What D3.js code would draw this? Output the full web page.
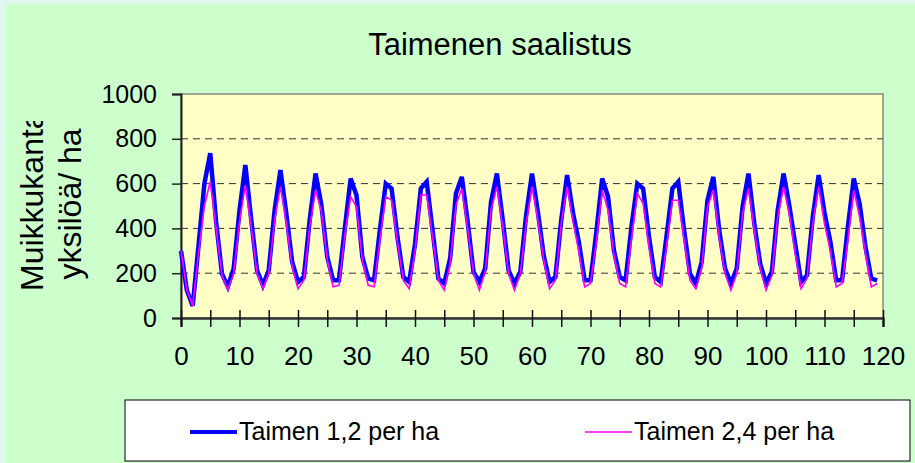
<!DOCTYPE html>
<html>
<head>
<meta charset="utf-8">
<script src="https://cdn.jsdelivr.net/npm/d3@7"></script>
<style>
  html, body { margin: 0; padding: 0; background: #e2f6f0; }
  svg { display: block; font-family: "Liberation Sans", Arial, sans-serif; }
</style>
</head>
<body>
<svg id="chart" width="915" height="463"></svg>
<script>
// Muikkukanta (yksilöä/ha), years 0..119
const series1 = [300, 124, 54, 325, 600, 736, 430, 198, 140, 220,
  480, 683, 440, 213, 146, 213, 481, 660, 466, 250,
  161, 183, 437, 645, 504, 273, 168, 168, 400, 623,
  548, 273, 176, 168, 393, 600, 578, 362, 183, 161,
  330, 578, 608, 392, 176, 154, 265, 556, 630, 429,
  206, 161, 221, 519, 645, 437, 213, 154, 206, 460,
  645, 474, 280, 161, 183, 437, 638, 470, 340, 168,
  168, 384, 623, 541, 302, 183, 168, 407, 600, 578,
  362, 183, 161, 366, 578, 608, 392, 198, 154, 250,
  526, 630, 392, 221, 154, 221, 496, 645, 422, 243,
  154, 206, 481, 645, 500, 329, 161, 191, 452, 638,
  470, 340, 168, 168, 407, 623, 511, 318, 176, 168];

const series2 = [300, 124, 54, 290, 500, 610, 400, 190, 125, 198,
  430, 593, 407, 198, 131, 198, 437, 586, 422, 228,
  131, 168, 407, 571, 474, 258, 139, 146, 370, 541,
  496, 258, 146, 139, 350, 541, 526, 340, 168, 131,
  300, 548, 550, 360, 168, 124, 240, 504, 578, 400,
  198, 124, 206, 481, 586, 407, 198, 124, 198, 420,
  586, 437, 260, 131, 168, 422, 586, 430, 300, 139,
  154, 340, 571, 481, 280, 154, 139, 350, 556, 511,
  320, 154, 139, 320, 526, 526, 350, 168, 131, 221,
  496, 571, 360, 198, 124, 198, 467, 578, 390, 221,
  124, 190, 452, 586, 460, 290, 131, 176, 422, 586,
  420, 300, 139, 154, 350, 571, 452, 290, 139, 154];

const seriesNames = ["Taimen 1,2 per ha", "Taimen 2,4 per ha"];
const seriesColors = ["#0000ff", "#ff00ff"];
const yTicks = [0, 200, 400, 600, 800, 1000];
const xTicks = [0, 5, 10, 15, 20, 25, 30, 35, 40, 45, 50, 55, 60, 65, 70, 75, 80, 85, 90, 95, 100, 105, 110, 115, 120];

const svg = d3.select("#chart");

// Background panel
svg.append("rect").attr("x", 6).attr("y", 4).attr("width", 909).attr("height", 459).attr("fill", "#ccffcc");

const plot = { left: 181, right: 883, top: 94, bottom: 318 };
const x = d3.scaleLinear().domain([0, 120]).range([plot.left, plot.right]);
const y = d3.scaleLinear().domain([0, 1000]).range([plot.bottom, plot.top]);

// Plot area
svg.append("rect")
  .attr("x", plot.left).attr("y", plot.top)
  .attr("width", plot.right - plot.left).attr("height", plot.bottom - plot.top)
  .attr("fill", "#ffffc6")
  .attr("stroke", "#888888").attr("stroke-width", 1.5);

// Gridlines
svg.append("g").selectAll("line")
  .data(yTicks.filter(d => d > 0 && d < 1000))
  .enter().append("line")
  .attr("x1", plot.left).attr("x2", plot.right)
  .attr("y1", d => y(d)).attr("y2", d => y(d))
  .attr("stroke", "#333").attr("stroke-width", 1)
  .attr("stroke-dasharray", "7,5");

// Y axis
const yAxis = svg.append("g")
  .attr("transform", `translate(${plot.left},0)`)
  .call(d3.axisLeft(y).tickValues(yTicks).tickSize(9).tickPadding(15).tickFormat(d3.format("d")));
yAxis.select(".domain").attr("stroke", "#222").attr("stroke-width", 2);
yAxis.selectAll(".tick line").attr("stroke", "#222").attr("stroke-width", 1.5);
yAxis.selectAll("text").attr("font-size", "25px").attr("fill", "#000").attr("font-family", "Liberation Sans, Arial");

// X axis
const xAxis = svg.append("g")
  .attr("transform", `translate(0,${plot.bottom})`)
  .call(d3.axisBottom(x).tickValues(xTicks).tickSize(9).tickPadding(20)
    .tickFormat(d => d % 10 === 0 ? d : ""));
xAxis.select(".domain").attr("stroke", "#333").attr("stroke-width", 2.5);
xAxis.selectAll(".tick line").attr("y1", -8).attr("stroke", "#111").attr("stroke-width", 1.5);
xAxis.selectAll("text").attr("font-size", "26px").attr("fill", "#000").attr("font-family", "Liberation Sans, Arial");

// Lines
const line = d3.line().x((d, i) => x(i)).y(d => y(d));
[series1, series2].forEach((s, k) => {
  svg.append("path")
    .datum(s)
    .attr("fill", "none")
    .attr("stroke", seriesColors[k])
    .attr("stroke-width", k === 0 ? 4.5 : 1.6)
    .attr("stroke-linejoin", "miter")
    .attr("d", line);
});

// Title
svg.append("text")
  .attr("x", 500).attr("y", 55)
  .attr("text-anchor", "middle")
  .attr("font-size", "31px")
  .text("Taimenen saalistus");

// Y axis title (first line clipped as in original)
svg.append("clipPath").attr("id", "ytclip")
  .append("rect").attr("x", 0).attr("y", 121).attr("width", 180).attr("height", 300);
svg.append("g")
  .attr("clip-path", "url(#ytclip)")
  .append("text")
  .attr("transform", "translate(43,291) rotate(-90)")
  .attr("font-size", "32px")
  .text("Muikkukanta");
svg.append("text")
  .attr("transform", "translate(81,204) rotate(-90)")
  .attr("text-anchor", "middle")
  .attr("font-size", "32px")
  .text("yksilöä/ ha");

// Legend
const legend = svg.append("g");
legend.append("rect")
  .attr("x", 125).attr("y", 400).attr("width", 785).attr("height", 61)
  .attr("fill", "#fff").attr("stroke", "#000").attr("stroke-width", 1);
const legendX = [190, 585];
seriesNames.forEach((name, k) => {
  legend.append("line")
    .attr("x1", legendX[k]).attr("x2", legendX[k] + 47)
    .attr("y1", 432).attr("y2", 432)
    .attr("stroke", seriesColors[k]).attr("stroke-width", k === 0 ? 4 : 1.6);
  legend.append("text")
    .attr("x", legendX[k] + 49).attr("y", 440)
    .attr("font-size", "25px")
    .text(name);
});
</script>
</body>
</html>
